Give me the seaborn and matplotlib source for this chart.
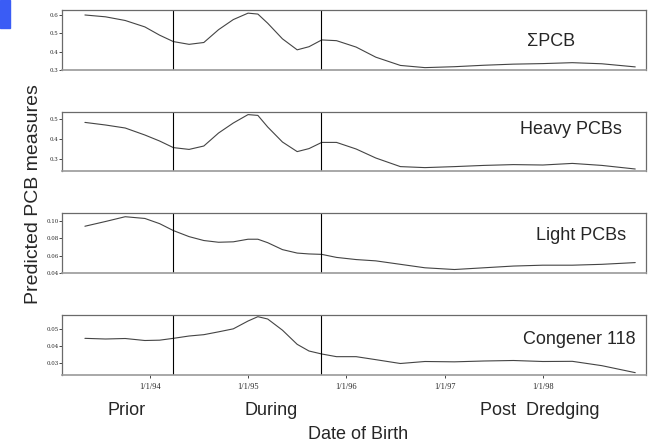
import numpy as np
import pandas as pd
import seaborn as sns
import matplotlib

matplotlib.use('Agg')
import matplotlib.pyplot as plt
from matplotlib.patches import Rectangle

# date of birth as decimal years
years = [1993.34, 1993.55, 1993.75, 1993.95, 1994.10, 1994.24, 1994.40, 1994.55,
         1994.70, 1994.85, 1995.00, 1995.10, 1995.20, 1995.35, 1995.50, 1995.62,
         1995.75, 1995.90, 1996.10, 1996.30, 1996.55, 1996.80, 1997.10, 1997.40,
         1997.70, 1998.00, 1998.30, 1998.60, 1998.94]

sum_pcb = [0.600, 0.590, 0.570, 0.535, 0.490, 0.455, 0.440, 0.450, 0.520, 0.575,
           0.610, 0.605, 0.555, 0.470, 0.410, 0.427, 0.464, 0.460, 0.425, 0.370,
           0.325, 0.313, 0.318, 0.326, 0.332, 0.335, 0.340, 0.334, 0.317]
heavy_pcb = [0.483, 0.470, 0.455, 0.420, 0.390, 0.357, 0.348, 0.365, 0.430, 0.480,
             0.522, 0.518, 0.460, 0.385, 0.337, 0.352, 0.383, 0.383, 0.350, 0.305,
             0.262, 0.257, 0.262, 0.268, 0.272, 0.270, 0.278, 0.268, 0.250]
light_pcb = [0.0940, 0.0995, 0.1050, 0.1030, 0.0970, 0.0890, 0.0820, 0.0775, 0.0755, 0.0760,
             0.0790, 0.0790, 0.0750, 0.0670, 0.0630, 0.0620, 0.0615, 0.0580, 0.0555, 0.0540,
             0.0500, 0.0460, 0.0440, 0.0460, 0.0480, 0.0490, 0.0490, 0.0500, 0.0520]
congener_118 = [0.0446, 0.0442, 0.0445, 0.0433, 0.0435, 0.0446, 0.0460, 0.0468, 0.0485, 0.0503,
                0.0550, 0.0576, 0.0562, 0.0495, 0.0410, 0.0370, 0.0352, 0.0336, 0.0336, 0.0318,
                0.0295, 0.0307, 0.0305, 0.0310, 0.0313, 0.0307, 0.0308, 0.0282, 0.0240]

panel_names = ["\u03a3PCB", "Heavy PCBs", "Light PCBs", "Congener 118"]
series = [sum_pcb, heavy_pcb, light_pcb, congener_118]
ylims = [(0.30, 0.627), (0.24, 0.535), (0.040, 0.1093), (0.0226, 0.0586)]
yticks = [[0.3, 0.4, 0.5, 0.6], [0.3, 0.4, 0.5], [0.04, 0.06, 0.08, 0.10], [0.03, 0.04, 0.05]]
ytick_labels = [["0.3", "0.4", "0.5", "0.6"], ["0.3", "0.4", "0.5"],
                ["0.04", "0.06", "0.08", "0.10"], ["0.03", "0.04", "0.05"]]
xticks = [1994, 1995, 1996, 1997, 1998]
xtick_labels = ["1/1/94", "1/1/95", "1/1/96", "1/1/97", "1/1/98"]
dredge_start, dredge_end = 1994.24, 1995.74

sns.set_style("white")
plt.rcParams['font.family'] = ['Liberation Sans', 'DejaVu Sans']

fig = plt.figure(figsize=(6.48, 4.42), dpi=100)
fig.patches.append(Rectangle((0, 1 - 28 / 442), 10 / 648, 28 / 442,
                             transform=fig.transFigure, color="#3a5cf5", zorder=0))

# panel boxes in figure coords (left, bottom, width, height)
bottoms = [0.8416, 0.6131, 0.3824, 0.1516]
heights = [0.1357, 0.1335, 0.1357, 0.1357]
label_pos = [(0.851, 0.907, "center"), (0.960, 0.706, "right"),
             (0.966, 0.468, "right"), (0.981, 0.231, "right")]

for i in range(4):
    ax = fig.add_axes([0.0957, bottoms[i], 0.9013, heights[i]])
    df = pd.DataFrame({"year": years, "value": series[i]})
    sns.lineplot(data=df, x="year", y="value", ax=ax, color="#444444", linewidth=0.8)
    ax.axvline(dredge_start, color="black", linewidth=0.8)
    ax.axvline(dredge_end, color="black", linewidth=0.8)
    ax.set_xlim(1993.107, 1999.05)
    ax.set_ylim(*ylims[i])
    ax.set_yticks(yticks[i])
    ax.set_yticklabels(ytick_labels[i], fontsize=4, family="DejaVu Serif")
    ax.tick_params(axis="y", length=2, width=0.6, pad=0.5, left=True)
    ax.set_xlabel("")
    ax.set_ylabel("")
    for s in ax.spines.values():
        s.set_color("#6a6a6a")
        s.set_linewidth(0.9)
    ax.spines["bottom"].set_color("#9a9a9a")
    ax.spines["bottom"].set_linewidth(1.2)
    if i == 3:
        ax.set_xticks(xticks)
        ax.set_xticklabels(xtick_labels, fontsize=6, family="Liberation Serif")
        ax.tick_params(axis="x", length=2, width=0.6, pad=4, bottom=True)
    else:
        ax.set_xticks([])
    fig.text(label_pos[i][0], label_pos[i][1], panel_names[i], fontsize=13,
             ha=label_pos[i][2], va="center")

fig.text(0.052, 0.56, "Predicted PCB measures", rotation=90, fontsize=14,
         ha="center", va="center")
fig.text(0.195, 0.072, "Prior", fontsize=13, ha="center", va="center")
fig.text(0.418, 0.072, "During", fontsize=13, ha="center", va="center")
fig.text(0.833, 0.072, "Post  Dredging", fontsize=13, ha="center", va="center")
fig.text(0.553, 0.016, "Date of Birth", fontsize=13, ha="center", va="center")

fig.savefig("out.png", dpi=100)
